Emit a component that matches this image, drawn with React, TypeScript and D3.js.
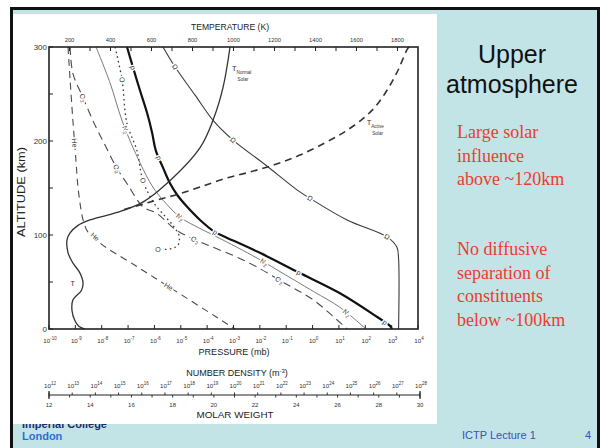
import React from 'react';
import * as d3 from 'd3';

type Pt = [number, number]; // [altitude km, value]

// ---- profiles (altitude in km, paired with the plotted quantity) ----
// log10 pressure (mb)
const pressureLog: Pt[] = [
  [300, -7.04], [278, -6.81], [254, -6.55], [230, -6.28], [209, -6.09], [190, -5.95],
  [172, -5.68], [155, -5.41], [142, -5.12], [130, -4.76], [116, -4.27], [103, -3.7],
  [99, -3.4], [81, -2.0], [60, -0.52], [38, 1.04], [13, 2.44], [3, 2.95], [0, 3.01],
];
// mean molar weight
const meanMolarWeight: Pt[] = [
  [300, 17.53], [279, 18.11], [249, 19.08], [222, 19.96], [201, 20.93], [175, 22.48],
  [148, 24.03], [139, 24.66], [116, 26.46], [98, 28.4], [87, 28.88], [75, 28.96], [0, 28.96],
];
// temperature (K), normal solar conditions
const tempNormal: Pt[] = [
  [300, 983], [257, 949], [222, 900], [193, 837], [155, 676], [135, 558], [124, 432],
  [116, 300], [110, 240], [102, 202], [95, 188], [81, 193], [70, 217], [60, 250],
  [49, 266], [41, 258], [31, 217], [20, 212], [9, 226], [3, 245], [0, 275],
];
// temperature (K), active sun
const tempActive: Pt[] = [
  [300, 1856], [297, 1846], [275, 1802], [254, 1749], [236, 1690], [223, 1627],
  [210, 1544], [198, 1446], [185, 1324], [175, 1202], [167, 1080], [160, 958],
  [151, 837], [144, 739], [138, 640], [133, 560], [127, 466],
];
// log10 number density (m^-3)
const heliumLog: Pt[] = [
  [300, 12.82], [265, 12.91], [222, 13.03], [180, 13.16], [151, 13.25], [127, 13.38],
  [116, 13.47], [103, 13.68], [98, 13.98], [91.5, 14.2], [68, 15.69], [45, 17.16],
  [13, 19.2], [0, 20.02],
];
const oxygenMolLog: Pt[] = [
  [300, 12.91], [272, 13.03], [246, 13.47], [217, 13.98], [196, 14.41], [171, 14.93],
  [153, 15.41], [130, 16.05], [123, 16.65], [105, 17.5], [95, 18.3], [72, 20.5],
  [49, 22.15], [30, 23.45], [0, 24.85],
];
const nitrogenLog: Pt[] = [
  [300, 14.03], [262, 14.63], [219, 15.19], [177, 15.92], [151, 16.48], [137, 16.92],
  [119, 17.65], [107, 18.51], [98, 19.24], [75.5, 20.97], [63, 21.83], [40, 23.4],
  [23, 24.55], [0, 25.67],
];
const oxygenAtomLog: Pt[] = [
  [300, 14.85], [265, 15.15], [219, 15.36], [190, 15.79], [158, 16.05], [135, 16.5],
  [120, 17.0], [110, 17.35], [100, 17.6], [94, 17.62], [89, 17.56], [86, 17.35], [84.5, 16.95],
];

// altitudes where curve names are written along the lines
const pLabelAlts = [278, 182, 103, 60, 7];
const mLabelAlts = [279, 201, 139, 98];
const n2LabelAlts = [212, 119, 71, 17];
const o2LabelAlts = [246, 171, 95, 52];
const heLabelAlts = [198, 98, 45];
const oLabelAlts = [265, 158];

// ---- axis ticks ----
const altitudeTicks = [0, 50, 100, 150, 200, 250, 300];
const altitudeLabels = [0, 100, 200, 300];
const temperatureTicks = [200, 300, 400, 500, 600, 700, 800, 900, 1000, 1100, 1200, 1300, 1400, 1500, 1600, 1700, 1800];
const temperatureLabels = [200, 400, 600, 800, 1000, 1200, 1400, 1600, 1800];
const pressureExps = [-10, -9, -8, -7, -6, -5, -4, -3, -2, -1, 0, 1, 2, 3, 4];
const densityExps = [12, 13, 14, 15, 16, 17, 18, 19, 20, 21, 22, 23, 24, 25, 26, 27, 28];
const molarTicks = [12, 13, 14, 15, 16, 17, 18, 19, 20, 21, 22, 23, 24, 25, 26, 27, 28, 29, 30];
const molarLabels = [12, 14, 16, 18, 20, 22, 24, 26, 28, 30];

const sideTitle = ['Upper', 'atmosphere'];
const noteSolar = ['Large solar', 'influence', 'above ~120km'];
const noteMixing = ['No diffusive', 'separation of', 'constituents', 'below ~100km'];

const SANS = "'Liberation Sans', Arial, Helvetica, sans-serif";
const SERIF = "'Liberation Serif', 'Times New Roman', Times, serif";
const CYAN = '#c2e4e6';
const RED = '#ef3b2e';

// ---- scales ----
const y = d3.scaleLinear().domain([0, 300]).range([329, 47]);
const xT = d3.scaleLinear().domain([100, 1900]).range([49, 418]);
const xP = d3.scaleLinear().domain([-10, 4]).range([49, 418]);
const xN = d3.scaleLinear().domain([12, 28]).range([49, 420]);
const xM = d3.scaleLinear().domain([12, 30]).range([49, 420]);

type Scale = d3.ScaleLinear<number, number>;

function valueAt(data: Pt[], alt: number): number {
  for (let i = 0; i < data.length - 1; i++) {
    const [a0, v0] = data[i];
    const [a1, v1] = data[i + 1];
    if (alt <= a0 && alt >= a1) {
      const t = a0 === a1 ? 0 : (alt - a0) / (a1 - a0);
      return v0 + t * (v1 - v0);
    }
  }
  return alt > data[0][0] ? data[0][1] : data[data.length - 1][1];
}

function pathOf(data: Pt[], xs: Scale): string {
  return (
    d3
      .line<Pt>()
      .x((d) => xs(d[1]))
      .y((d) => y(d[0]))
      .curve(d3.curveCatmullRom.alpha(0.5))(data) || ''
  );
}

interface Series {
  id: string;
  data: Pt[];
  xs: Scale;
  stroke: string;
  width: number;
  dash?: string;
  name: string;
  sub?: string;
  labelAlts: number[];
}

const series: Series[] = [
  { id: 'he', data: heliumLog, xs: xN, stroke: '#4a4a4a', width: 1.1, dash: '7,5', name: 'He', labelAlts: heLabelAlts },
  { id: 'o2', data: oxygenMolLog, xs: xN, stroke: '#4a4a4a', width: 1.1, dash: '8,5', name: 'O', sub: '2', labelAlts: o2LabelAlts },
  { id: 'n2', data: nitrogenLog, xs: xN, stroke: '#7a7a7a', width: 1.0, name: 'N', sub: '2', labelAlts: n2LabelAlts },
  { id: 'o', data: oxygenAtomLog, xs: xN, stroke: '#3a3a3a', width: 1.3, dash: '1.6,3.2', name: 'O', labelAlts: oLabelAlts },
  { id: 'm', data: meanMolarWeight, xs: xM, stroke: '#3a3a3a', width: 1.1, name: 'Ω', labelAlts: mLabelAlts },
  { id: 'p', data: pressureLog, xs: xP, stroke: '#111', width: 2.2, name: 'p', labelAlts: pLabelAlts },
];

function CurveLabel({ s, alt }: { s: Series; alt: number }) {
  const x = s.xs(valueAt(s.data, alt));
  const yy = y(alt);
  const a1 = Math.min(300, alt + 4);
  const a2 = Math.max(0, alt - 4);
  const dx = s.xs(valueAt(s.data, a2)) - s.xs(valueAt(s.data, a1));
  const dy = y(a2) - y(a1);
  const ang = (Math.atan2(dy, dx) * 180) / Math.PI;
  return (
    <text
      transform={`translate(${x},${yy}) rotate(${ang})`}
      textAnchor="middle"
      dy="2.4"
      fontFamily={SANS}
      fontSize={7}
      fill="#333"
      stroke="#fff"
      strokeWidth={3}
      strokeLinejoin="round"
      style={{ paintOrder: 'stroke' }}
    >
      {s.name}
      {s.sub ? (
        <tspan fontSize={5} dy="1.6">
          {s.sub}
        </tspan>
      ) : null}
    </text>
  );
}

function Pow({ x, yPos, base, exp, size }: { x: number; yPos: number; base: string; exp: number; size: number }) {
  return (
    <text x={x} y={yPos} textAnchor="middle" fontFamily={SANS} fontSize={size} fill="#333">
      {base}
      <tspan fontSize={size * 0.72} dy={-size * 0.42}>
        {exp}
      </tspan>
    </text>
  );
}

function TLabel({ alt, temp, sub }: { alt: number; temp: number; sub: string }) {
  const x = xT(temp);
  const yy = y(alt);
  return (
    <g fontFamily={SANS} fill="#333">
      <text x={x} y={yy} fontSize={7.5}>T</text>
      <text x={x + 4.5} y={yy + 3} fontSize={4.6}>{sub}</text>
      <text x={x + 5.5} y={yy + 9.5} fontSize={4.6}>Solar</text>
    </g>
  );
}

export default function App() {
  const [x0, x1] = xP.range();
  const [yb, yt] = y.range();
  const densityAxisY = 395;
  const nEnd = xN.range();
  const oEndAlt = oxygenAtomLog[oxygenAtomLog.length - 1][0];
  const oEndVal = oxygenAtomLog[oxygenAtomLog.length - 1][1];

  return (
    <div style={{ position: 'absolute', left: 0, top: 0 }}>
      <svg width={604} height={448} viewBox="0 0 604 448" style={{ display: 'block' }}>
        {/* slide */}
        <rect x={0} y={0} width={604} height={448} fill="#fff" />
        <rect x={10} y={7} width={590} height={441} fill={CYAN} />
        <rect x={10} y={7} width={590} height={3} fill="#111" />
        <rect x={10} y={7} width={3} height={441} fill="#111" />
        <rect x={597} y={7} width={3} height={441} fill="#111" />
        <text x={22} y={428} fontFamily={SANS} fontWeight="bold" fontSize={11} fill="#1b2a6b">
          Imperial College
        </text>
        <text x={22} y={440} fontFamily={SANS} fontWeight="bold" fontSize={11} fill="#2a6fd8">
          London
        </text>
        <text x={462} y={439} fontFamily={SANS} fontSize={11} fill="#3e4fb5">
          ICTP  Lecture 1
        </text>
        <text x={585} y={439} fontFamily={SANS} fontSize={11} fill="#3e4fb5">
          4
        </text>

        {/* side notes */}
        {sideTitle.map((t, i) => (
          <text key={t} x={512} y={63 + i * 30} textAnchor="middle" fontFamily={SANS} fontSize={25} fill="#111">
            {t}
          </text>
        ))}
        {noteSolar.map((t, i) => (
          <text key={t} x={457} y={138 + i * 23.5} fontFamily={SERIF} fontSize={18} fill={RED}>
            {t}
          </text>
        ))}
        {noteMixing.map((t, i) => (
          <text key={t} x={457} y={255 + i * 23.5} fontFamily={SERIF} fontSize={18} fill={RED}>
            {t}
          </text>
        ))}

        {/* chart panel */}
        <rect x={13} y={14} width={424} height={410} fill="#fff" />

        {/* profiles */}
        {series.map((s) => (
          <path
            key={s.id}
            d={pathOf(s.data, s.xs)}
            fill="none"
            stroke={s.stroke}
            strokeWidth={s.width}
            strokeDasharray={s.dash}
          />
        ))}
        <path d={pathOf(tempNormal, xT)} fill="none" stroke="#333" strokeWidth={1.3} />
        <path d={pathOf(tempActive, xT)} fill="none" stroke="#333" strokeWidth={1.6} strokeDasharray="7,5" />

        {series.map((s) => s.labelAlts.map((a) => <CurveLabel key={s.id + a} s={s} alt={a} />))}
        <text
          x={xN(oEndVal) - 3}
          y={y(oEndAlt) + 2.4}
          textAnchor="end"
          fontFamily={SANS}
          fontSize={7}
          fill="#333"
        >
          O
        </text>
        <text x={xT(215)} y={y(48) + 2.5} textAnchor="middle" fontFamily={SANS} fontSize={7} fill="#333">
          T
        </text>
        <TLabel alt={274} temp={993} sub="Normal" />
        <TLabel alt={217} temp={1650} sub="Active" />

        {/* frame */}
        <rect x={x0} y={yt} width={x1 - x0} height={yb - yt} fill="none" stroke="#222" strokeWidth={1.6} />

        {/* altitude axis */}
        {altitudeTicks.map((a) => (
          <line key={'at' + a} x1={x0} x2={x0 + 4} y1={y(a)} y2={y(a)} stroke="#222" strokeWidth={1} />
        ))}
        {altitudeLabels.map((a) => (
          <text key={'al' + a} x={x0 - 2} y={y(a) + 2.8} textAnchor="end" fontFamily={SANS} fontSize={8} fill="#333">
            {a}
          </text>
        ))}
        <text
          transform={`translate(25,${(yb + yt) / 2 + 4}) rotate(-90)`}
          textAnchor="middle"
          fontFamily={SANS}
          fontSize={10}
          fill="#222"
          textLength={90}
          lengthAdjust="spacingAndGlyphs"
        >
          ALTITUDE (km)
        </text>

        {/* temperature axis */}
        {temperatureTicks.map((t) => (
          <line key={'tt' + t} x1={xT(t)} x2={xT(t)} y1={yt} y2={yt + 4} stroke="#222" strokeWidth={1} />
        ))}
        {temperatureLabels.map((t) => (
          <text key={'tl' + t} x={xT(t)} y={42} textAnchor="middle" fontFamily={SANS} fontSize={5.8} fill="#333">
            {t}
          </text>
        ))}
        <text x={230} y={30} textAnchor="middle" fontFamily={SANS} fontSize={8.5} fill="#222" textLength={78} lengthAdjust="spacingAndGlyphs">
          TEMPERATURE (K)
        </text>

        {/* pressure axis */}
        {pressureExps.map((e) => (
          <line key={'pt' + e} x1={xP(e)} x2={xP(e)} y1={yb} y2={yb - 4} stroke="#222" strokeWidth={1} />
        ))}
        {pressureExps.map((e) => (
          <Pow key={'pl' + e} x={xP(e) + 1} yPos={343} base="10" exp={e} size={6.2} />
        ))}
        <text x={234} y={355} textAnchor="middle" fontFamily={SANS} fontSize={8.5} fill="#222" textLength={71} lengthAdjust="spacingAndGlyphs">
          PRESSURE (mb)
        </text>

        {/* number density / molar weight axis */}
        <text x={237} y={376} textAnchor="middle" fontFamily={SANS} fontSize={9} fill="#222">
          NUMBER DENSITY (m
          <tspan fontSize={6} dy={-3.5}>-3</tspan>
          <tspan dy={3.5}>)</tspan>
        </text>
        {densityExps.map((e) => (
          <Pow key={'nl' + e} x={xN(e) + 1} yPos={388} base="10" exp={e} size={6.2} />
        ))}
        <line x1={nEnd[0]} x2={nEnd[1]} y1={densityAxisY} y2={densityAxisY} stroke="#222" strokeWidth={1.2} />
        {densityExps.map((e) => (
          <line key={'nt' + e} x1={xN(e)} x2={xN(e)} y1={densityAxisY} y2={densityAxisY - 2.5} stroke="#222" strokeWidth={0.9} />
        ))}
        {molarTicks.map((m) => (
          <line key={'mt' + m} x1={xM(m)} x2={xM(m)} y1={densityAxisY} y2={densityAxisY + 2.5} stroke="#222" strokeWidth={0.9} />
        ))}
        {[12, 30].map((m) => (
          <line key={'me' + m} x1={xM(m)} x2={xM(m)} y1={densityAxisY - 4} y2={densityAxisY + 4} stroke="#222" strokeWidth={1.2} />
        ))}
        {molarLabels.map((m) => (
          <text key={'ml' + m} x={xM(m)} y={407} textAnchor="middle" fontFamily={SANS} fontSize={6} fill="#333">
            {m}
          </text>
        ))}
        <text x={235} y={418} textAnchor="middle" fontFamily={SANS} fontSize={8.5} fill="#222" textLength={77} lengthAdjust="spacingAndGlyphs">
          MOLAR WEIGHT
        </text>
      </svg>
    </div>
  );
}
